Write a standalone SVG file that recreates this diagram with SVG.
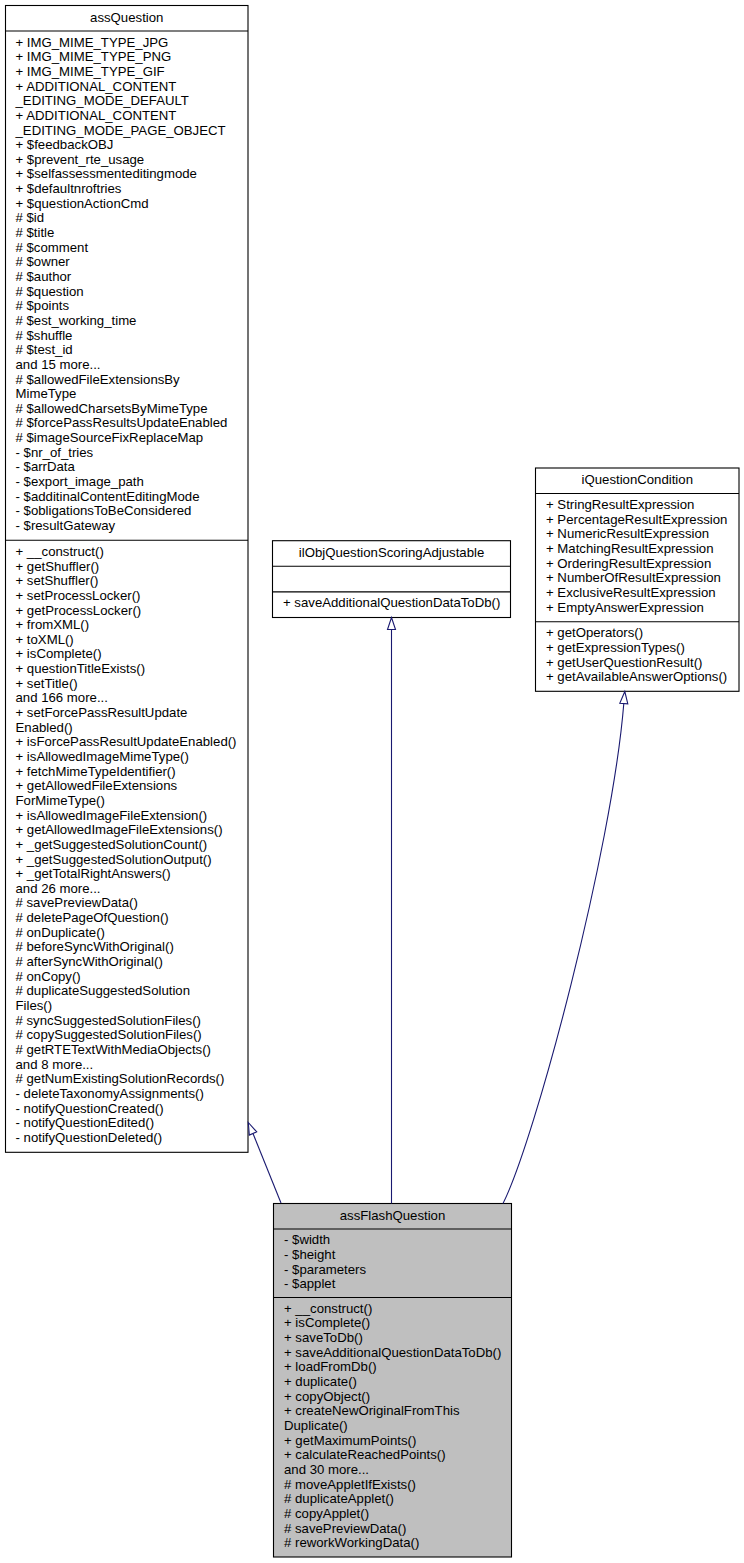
<svg xmlns="http://www.w3.org/2000/svg" width="744" height="1563" viewBox="0 0 744 1563">
<style>
.box{fill:#ffffff;stroke:#000000;stroke-width:1.1}
.grey{fill:#bfbfbf}
.div{stroke:#000000;stroke-width:1.1}
.t{font-family:"Liberation Sans",Arial,Helvetica,sans-serif;font-size:13.2px;fill:#000000}
.c{text-anchor:middle}
.edge{fill:none;stroke:#191970;stroke-width:1.1}
.ah{fill:#ffffff;stroke:#191970;stroke-width:1.1}
</style>
<rect width="744" height="1563" fill="#ffffff"/>

<g id="assQuestion">
<rect class="box" x="5.5" y="5.5" width="242.5" height="1146.8"/>
<line class="div" x1="5.5" y1="31" x2="248" y2="31"/>
<line class="div" x1="5.5" y1="540.3" x2="248" y2="540.3"/>
<text class="t c" x="126.75" y="21.7">assQuestion</text>
<text class="t" x="15.5" y="46.6">
<tspan x="15.5" dy="0">+ IMG_MIME_TYPE_JPG</tspan>
<tspan x="15.5" dy="14.65">+ IMG_MIME_TYPE_PNG</tspan>
<tspan x="15.5" dy="14.65">+ IMG_MIME_TYPE_GIF</tspan>
<tspan x="15.5" dy="14.65">+ ADDITIONAL_CONTENT</tspan>
<tspan x="15.5" dy="14.65">_EDITING_MODE_DEFAULT</tspan>
<tspan x="15.5" dy="14.65">+ ADDITIONAL_CONTENT</tspan>
<tspan x="15.5" dy="14.65">_EDITING_MODE_PAGE_OBJECT</tspan>
<tspan x="15.5" dy="14.65">+ $feedbackOBJ</tspan>
<tspan x="15.5" dy="14.65">+ $prevent_rte_usage</tspan>
<tspan x="15.5" dy="14.65">+ $selfassessmenteditingmode</tspan>
<tspan x="15.5" dy="14.65">+ $defaultnroftries</tspan>
<tspan x="15.5" dy="14.65">+ $questionActionCmd</tspan>
<tspan x="15.5" dy="14.65"># $id</tspan>
<tspan x="15.5" dy="14.65"># $title</tspan>
<tspan x="15.5" dy="14.65"># $comment</tspan>
<tspan x="15.5" dy="14.65"># $owner</tspan>
<tspan x="15.5" dy="14.65"># $author</tspan>
<tspan x="15.5" dy="14.65"># $question</tspan>
<tspan x="15.5" dy="14.65"># $points</tspan>
<tspan x="15.5" dy="14.65"># $est_working_time</tspan>
<tspan x="15.5" dy="14.65"># $shuffle</tspan>
<tspan x="15.5" dy="14.65"># $test_id</tspan>
<tspan x="15.5" dy="14.65">and 15 more...</tspan>
<tspan x="15.5" dy="14.65"># $allowedFileExtensionsBy</tspan>
<tspan x="15.5" dy="14.65">MimeType</tspan>
<tspan x="15.5" dy="14.65"># $allowedCharsetsByMimeType</tspan>
<tspan x="15.5" dy="14.65"># $forcePassResultsUpdateEnabled</tspan>
<tspan x="15.5" dy="14.65"># $imageSourceFixReplaceMap</tspan>
<tspan x="15.5" dy="14.65">- $nr_of_tries</tspan>
<tspan x="15.5" dy="14.65">- $arrData</tspan>
<tspan x="15.5" dy="14.65">- $export_image_path</tspan>
<tspan x="15.5" dy="14.65">- $additinalContentEditingMode</tspan>
<tspan x="15.5" dy="14.65">- $obligationsToBeConsidered</tspan>
<tspan x="15.5" dy="14.65">- $resultGateway</tspan>
</text>
<text class="t" x="15.5" y="555.9">
<tspan x="15.5" dy="0">+ __construct()</tspan>
<tspan x="15.5" dy="14.65">+ getShuffler()</tspan>
<tspan x="15.5" dy="14.65">+ setShuffler()</tspan>
<tspan x="15.5" dy="14.65">+ setProcessLocker()</tspan>
<tspan x="15.5" dy="14.65">+ getProcessLocker()</tspan>
<tspan x="15.5" dy="14.65">+ fromXML()</tspan>
<tspan x="15.5" dy="14.65">+ toXML()</tspan>
<tspan x="15.5" dy="14.65">+ isComplete()</tspan>
<tspan x="15.5" dy="14.65">+ questionTitleExists()</tspan>
<tspan x="15.5" dy="14.65">+ setTitle()</tspan>
<tspan x="15.5" dy="14.65">and 166 more...</tspan>
<tspan x="15.5" dy="14.65">+ setForcePassResultUpdate</tspan>
<tspan x="15.5" dy="14.65">Enabled()</tspan>
<tspan x="15.5" dy="14.65">+ isForcePassResultUpdateEnabled()</tspan>
<tspan x="15.5" dy="14.65">+ isAllowedImageMimeType()</tspan>
<tspan x="15.5" dy="14.65">+ fetchMimeTypeIdentifier()</tspan>
<tspan x="15.5" dy="14.65">+ getAllowedFileExtensions</tspan>
<tspan x="15.5" dy="14.65">ForMimeType()</tspan>
<tspan x="15.5" dy="14.65">+ isAllowedImageFileExtension()</tspan>
<tspan x="15.5" dy="14.65">+ getAllowedImageFileExtensions()</tspan>
<tspan x="15.5" dy="14.65">+ _getSuggestedSolutionCount()</tspan>
<tspan x="15.5" dy="14.65">+ _getSuggestedSolutionOutput()</tspan>
<tspan x="15.5" dy="14.65">+ _getTotalRightAnswers()</tspan>
<tspan x="15.5" dy="14.65">and 26 more...</tspan>
<tspan x="15.5" dy="14.65"># savePreviewData()</tspan>
<tspan x="15.5" dy="14.65"># deletePageOfQuestion()</tspan>
<tspan x="15.5" dy="14.65"># onDuplicate()</tspan>
<tspan x="15.5" dy="14.65"># beforeSyncWithOriginal()</tspan>
<tspan x="15.5" dy="14.65"># afterSyncWithOriginal()</tspan>
<tspan x="15.5" dy="14.65"># onCopy()</tspan>
<tspan x="15.5" dy="14.65"># duplicateSuggestedSolution</tspan>
<tspan x="15.5" dy="14.65">Files()</tspan>
<tspan x="15.5" dy="14.65"># syncSuggestedSolutionFiles()</tspan>
<tspan x="15.5" dy="14.65"># copySuggestedSolutionFiles()</tspan>
<tspan x="15.5" dy="14.65"># getRTETextWithMediaObjects()</tspan>
<tspan x="15.5" dy="14.65">and 8 more...</tspan>
<tspan x="15.5" dy="14.65"># getNumExistingSolutionRecords()</tspan>
<tspan x="15.5" dy="14.65">- deleteTaxonomyAssignments()</tspan>
<tspan x="15.5" dy="14.65">- notifyQuestionCreated()</tspan>
<tspan x="15.5" dy="14.65">- notifyQuestionEdited()</tspan>
<tspan x="15.5" dy="14.65">- notifyQuestionDeleted()</tspan>
</text>
</g>

<g id="ilObjQuestionScoringAdjustable">
<rect class="box" x="272.5" y="540.7" width="238" height="76.8"/>
<line class="div" x1="272.5" y1="566.3" x2="510.5" y2="566.3"/>
<line class="div" x1="272.5" y1="591.9" x2="510.5" y2="591.9"/>
<text class="t c" x="391.5" y="557">ilObjQuestionScoringAdjustable</text>
<text class="t" x="283" y="607.4">+ saveAdditionalQuestionDataToDb()</text>
</g>

<g id="iQuestionCondition">
<rect class="box" x="535.5" y="468" width="203.5" height="223.3"/>
<line class="div" x1="535.5" y1="493.5" x2="739" y2="493.5"/>
<line class="div" x1="535.5" y1="621.8" x2="739" y2="621.8"/>
<text class="t c" x="637.25" y="484.2">iQuestionCondition</text>
<text class="t" x="546" y="509">
<tspan x="546" dy="0">+ StringResultExpression</tspan>
<tspan x="546" dy="14.65">+ PercentageResultExpression</tspan>
<tspan x="546" dy="14.65">+ NumericResultExpression</tspan>
<tspan x="546" dy="14.65">+ MatchingResultExpression</tspan>
<tspan x="546" dy="14.65">+ OrderingResultExpression</tspan>
<tspan x="546" dy="14.65">+ NumberOfResultExpression</tspan>
<tspan x="546" dy="14.65">+ ExclusiveResultExpression</tspan>
<tspan x="546" dy="14.65">+ EmptyAnswerExpression</tspan>
</text>
<text class="t" x="546" y="637.3">
<tspan x="546" dy="0">+ getOperators()</tspan>
<tspan x="546" dy="14.65">+ getExpressionTypes()</tspan>
<tspan x="546" dy="14.65">+ getUserQuestionResult()</tspan>
<tspan x="546" dy="14.65">+ getAvailableAnswerOptions()</tspan>
</text>
</g>

<g id="assFlashQuestion">
<rect class="box grey" x="273.5" y="1203.5" width="238" height="353.5"/>
<line class="div" x1="273.5" y1="1229" x2="511.5" y2="1229"/>
<line class="div" x1="273.5" y1="1297.5" x2="511.5" y2="1297.5"/>
<text class="t c" x="392.5" y="1219.7">assFlashQuestion</text>
<text class="t" x="284" y="1244.4">
<tspan x="284" dy="0">- $width</tspan>
<tspan x="284" dy="14.65">- $height</tspan>
<tspan x="284" dy="14.65">- $parameters</tspan>
<tspan x="284" dy="14.65">- $applet</tspan>
</text>
<text class="t" x="284" y="1312.8">
<tspan x="284" dy="0">+ __construct()</tspan>
<tspan x="284" dy="14.65">+ isComplete()</tspan>
<tspan x="284" dy="14.65">+ saveToDb()</tspan>
<tspan x="284" dy="14.65">+ saveAdditionalQuestionDataToDb()</tspan>
<tspan x="284" dy="14.65">+ loadFromDb()</tspan>
<tspan x="284" dy="14.65">+ duplicate()</tspan>
<tspan x="284" dy="14.65">+ copyObject()</tspan>
<tspan x="284" dy="14.65">+ createNewOriginalFromThis</tspan>
<tspan x="284" dy="14.65">Duplicate()</tspan>
<tspan x="284" dy="14.65">+ getMaximumPoints()</tspan>
<tspan x="284" dy="14.65">+ calculateReachedPoints()</tspan>
<tspan x="284" dy="14.65">and 30 more...</tspan>
<tspan x="284" dy="14.65"># moveAppletIfExists()</tspan>
<tspan x="284" dy="14.65"># duplicateApplet()</tspan>
<tspan x="284" dy="14.65"># copyApplet()</tspan>
<tspan x="284" dy="14.65"># savePreviewData()</tspan>
<tspan x="284" dy="14.65"># reworkWorkingData()</tspan>
</text>
</g>

<g id="connectors">
<path class="edge" d="M281,1203 L253,1133.5"/>
<polygon class="ah" points="248.3,1122.5 256.7,1131.9 249.3,1135.1"/>
<path class="edge" d="M391.5,1203.5 L391.5,629.5"/>
<polygon class="ah" points="391.5,617.5 395.5,629.5 387.5,629.5"/>
<path class="edge" d="M503,1203.5 C535,1140 612,850 623.8,703.5"/>
<polygon class="ah" points="624.8,691.5 627.8,703.8 619.8,703.2"/>
</g>
</svg>
